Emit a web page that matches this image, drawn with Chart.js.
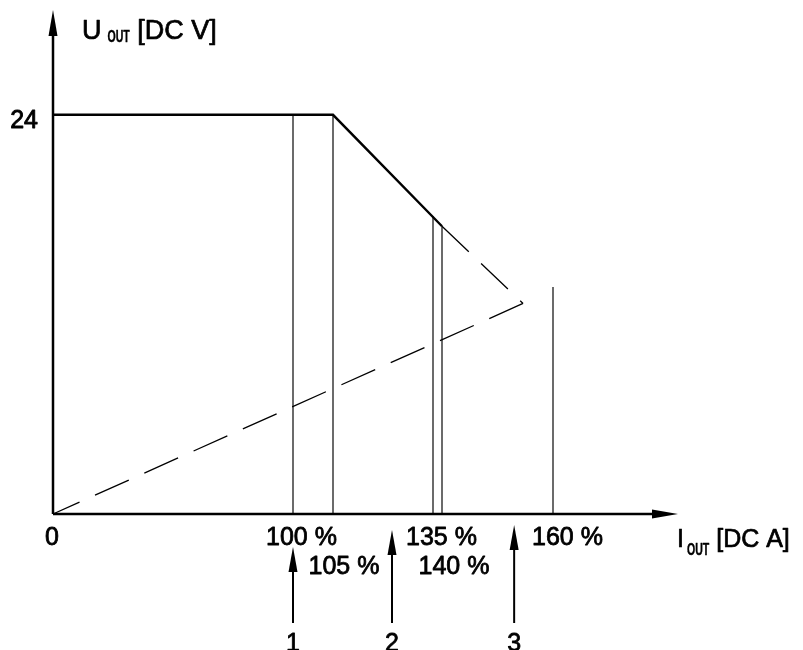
<!DOCTYPE html>
<html>
<head>
<meta charset="utf-8">
<title>U-I characteristic</title>
<script src="https://cdn.jsdelivr.net/npm/chart.js@4/dist/chart.umd.min.js"></script>
<style>
  html, body { margin: 0; padding: 0; background: #fff; }
  #wrap { width: 803px; height: 650px; position: relative; }
</style>
</head>
<body>
<div id="wrap"><canvas id="chart"></canvas></div>
<script>
// Output current in % of rated current, output voltage in V DC
const currentTicks = [0, 100, 105, 135, 140, 160];
const currentTickLabels = ['0', '100 %', '105 %', '135 %', '140 %', '160 %'];
const currentTickRow = [0, 0, 1, 0, 1, 0];
const voltageTicks = [24];
const voltageTickLabels = ['24'];

// Characteristic: constant voltage, then current limiting
const curveCurrent = [0, 105, 140];
const curveVoltage = [24, 24, 17.3];

// Fold-back continuation (dashed) down to the turn point ...
const foldDownCurrent = [140, 154.6];
const foldDownVoltage = [17.3, 12.66];
// ... and from the turn point back to zero
const foldBackCurrent = [154.6, 0];
const foldBackVoltage = [12.66, 0];

// Vertical marker lines
const markerCurrent = [100, 105, 135, 140, 160];
const markerVoltage = [24, 24, 17.9, 17.3, 13.65];

// Numbered operating points
const pointCurrent = [100, 122.7, 153];
const pointLabels = ['1', '2', '3'];

// ---- axis layout (schematic, non-uniform current axis) ----
const knotValue = [0, 100, 105, 135, 140, 160, 185];
const knotFraction = [0, 0.384, 0.448, 0.608, 0.6224, 0.8, 1];

function valueToFraction(v) {
  for (let i = 1; i < knotValue.length; i++) {
    if (v <= knotValue[i] || i === knotValue.length - 1) {
      const t = (v - knotValue[i - 1]) / (knotValue[i] - knotValue[i - 1]);
      return knotFraction[i - 1] + t * (knotFraction[i] - knotFraction[i - 1]);
    }
  }
  return 0;
}
function fractionToValue(f) {
  for (let i = 1; i < knotFraction.length; i++) {
    if (f <= knotFraction[i] || i === knotFraction.length - 1) {
      const t = (f - knotFraction[i - 1]) / (knotFraction[i] - knotFraction[i - 1]);
      return knotValue[i - 1] + t * (knotValue[i] - knotValue[i - 1]);
    }
  }
  return 0;
}

class SchematicScale extends Chart.LinearScale {
  getPixelForValue(value) {
    if (value === null || value === undefined || isNaN(value)) return NaN;
    return this.getPixelForDecimal(valueToFraction(value));
  }
  getValueForPixel(pixel) {
    return fractionToValue(this.getDecimalForPixel(pixel));
  }
}
SchematicScale.id = 'schematic';
SchematicScale.defaults = Chart.LinearScale.defaults;
Chart.register(SchematicScale);

// ---- styling ----
const FONT = '"Liberation Sans", Arial, Helvetica, sans-serif';
const tickNudge = [-1, 8.5, 11, 8.5, 12, 14.5];
const pointTipOffset = [33, 16, 11];
const DASH = [37, 17];

function toPoints(xs, ys) { return xs.map((x, i) => ({ x: x, y: ys[i] })); }

// filled text with a hairline outline for a slightly heavier stroke
function heavyText(ctx, text, x, y, weight) {
  ctx.lineWidth = weight;
  ctx.lineJoin = 'round';
  ctx.strokeText(text, x, y);
  ctx.fillText(text, x, y);
}

function arrowHead(ctx, x, y, dir, len, half) {
  ctx.beginPath();
  if (dir === 'up') {
    ctx.moveTo(x, y); ctx.lineTo(x - half, y + len); ctx.lineTo(x + half, y + len);
  } else {
    ctx.moveTo(x, y); ctx.lineTo(x - len, y - half); ctx.lineTo(x - len, y + half);
  }
  ctx.closePath();
  ctx.fill();
}

function drawSubTitle(ctx, main, sub, rest, x, baseline, size, subSize, subDrop, subGap) {
  ctx.textAlign = 'left';
  ctx.textBaseline = 'alphabetic';
  ctx.font = size + 'px ' + FONT;
  heavyText(ctx, main, x, baseline, 0.7);
  let cx = x + ctx.measureText(main).width + subGap;
  ctx.font = 'bold ' + subSize + 'px ' + FONT;
  const squeeze = 0.66;
  const subW = ctx.measureText(sub).width * squeeze;
  ctx.save();
  ctx.translate(cx, baseline + subDrop);
  ctx.scale(squeeze, 1);
  heavyText(ctx, sub, 0, 0, 0.4);
  ctx.restore();
  cx += subW;
  ctx.font = size + 'px ' + FONT;
  heavyText(ctx, rest, cx, baseline, 0.7);
}

const decorations = {
  id: 'decorations',
  afterDatasetsDraw(chart) {
    const { ctx, chartArea: a, scales } = chart;
    const xs = scales.x, ys = scales.y;
    const x0 = xs.getPixelForValue(0);
    const y0 = ys.getPixelForValue(0);
    ctx.save();
    ctx.fillStyle = '#000';
    ctx.strokeStyle = '#000';

    // axes with arrow heads
    ctx.lineWidth = 2.5;
    ctx.beginPath();
    ctx.moveTo(x0, y0); ctx.lineTo(x0, a.top + 20);
    ctx.moveTo(x0, y0); ctx.lineTo(a.right - 20, y0);
    ctx.stroke();
    arrowHead(ctx, x0, a.top, 'up', 26, 4.5);
    arrowHead(ctx, a.right, y0, 'right', 26, 4.5);

    // current tick labels (two staggered rows)
    ctx.font = '25px ' + FONT;
    ctx.textAlign = 'center';
    ctx.textBaseline = 'alphabetic';
    currentTicks.forEach((c, i) => {
      const px = xs.getPixelForValue(c) + tickNudge[i];
      const base = y0 + 31 + currentTickRow[i] * 29;
      heavyText(ctx, currentTickLabels[i], px, base, 0.8);
    });

    // voltage tick labels
    ctx.textAlign = 'right';
    voltageTicks.forEach((v, i) => {
      heavyText(ctx, voltageTickLabels[i], x0 - 15, ys.getPixelForValue(v) + 13, 0.9);
    });

    // axis titles
    drawSubTitle(ctx, 'U', 'OUT', ' [DC V]', x0 + 29, a.top + 29, 27, 16, 3, 6);
    drawSubTitle(ctx, 'I', 'OUT', ' [DC A]', a.right - 1, y0 + 33, 25, 16, 8, 3);

    // numbered operating point arrows
    pointCurrent.forEach((c, i) => {
      const px = xs.getPixelForValue(c);
      const tip = y0 + pointTipOffset[i];
      ctx.lineWidth = 2;
      ctx.beginPath();
      ctx.moveTo(px, y0 + 109);
      ctx.lineTo(px, tip + 20);
      ctx.stroke();
      arrowHead(ctx, px, tip, 'up', 25, 4.5);
      ctx.font = '25px ' + FONT;
      ctx.textAlign = 'center';
      heavyText(ctx, pointLabels[i], px, y0 + 137, 0.8);
    });
    ctx.restore();
  }
};

const markerSets = markerCurrent.map((c, i) => ({
  data: [{ x: c, y: 0 }, { x: c, y: markerVoltage[i] }],
  borderColor: '#6b6b6b',
  borderWidth: 2,
  order: 3
}));

new Chart(document.getElementById('chart'), {
  type: 'scatter',
  data: {
    datasets: [
      {
        data: toPoints(curveCurrent, curveVoltage),
        borderColor: '#000',
        borderWidth: 2.4,
        order: 1
      },
      {
        data: toPoints(foldDownCurrent, foldDownVoltage),
        borderColor: '#000',
        borderWidth: 1.3,
        borderDash: DASH,
        order: 2
      },
      {
        data: toPoints(foldBackCurrent, foldBackVoltage),
        borderColor: '#000',
        borderWidth: 1.3,
        borderDash: DASH,
        order: 2
      },
      ...markerSets
    ].map(d => Object.assign({
      showLine: true,
      pointRadius: 0,
      pointHoverRadius: 0,
      tension: 0,
      clip: false,
      borderJoinStyle: 'miter'
    }, d))
  },
  options: {
    responsive: true,
    maintainAspectRatio: false,
    animation: false,
    events: [],
    layout: { padding: { left: 53, right: 125, top: 10, bottom: 136 } },
    plugins: { legend: { display: false }, tooltip: { enabled: false } },
    scales: {
      x: { type: 'schematic', min: 0, max: 185, display: false },
      y: { type: 'linear', min: 0, max: 30.3, display: false }
    }
  },
  plugins: [decorations]
});
</script>
</body>
</html>
